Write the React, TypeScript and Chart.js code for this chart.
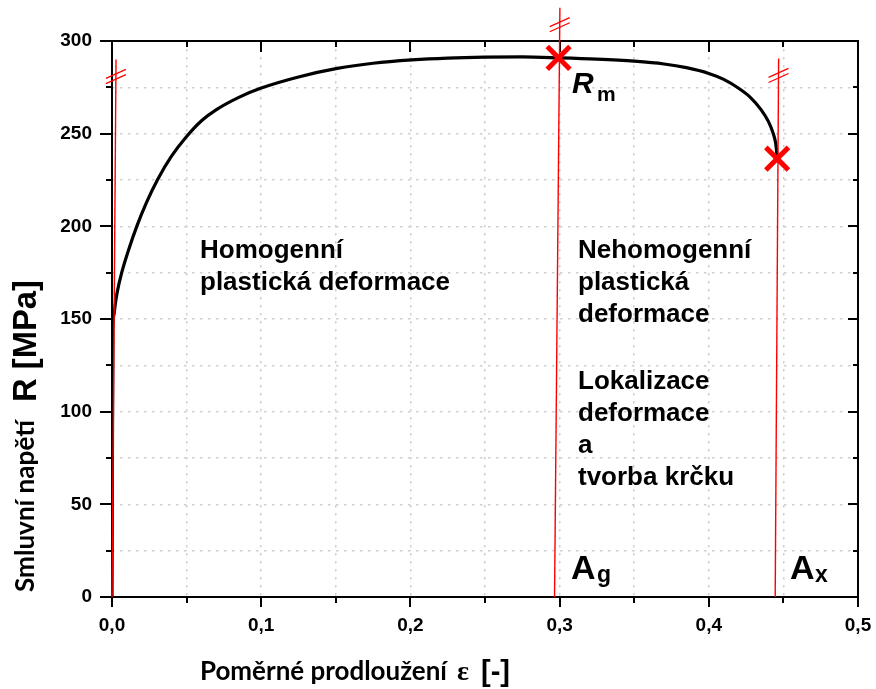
import React, { useEffect, useRef } from 'react';
import { Chart, registerables } from 'chart.js';

Chart.register(...registerables);

// ---- data ----
const strainValues = [
  0, 0.0006, 0.0012, 0.0022, 0.0035, 0.0065, 0.011, 0.0166, 0.023, 0.0305, 0.04, 0.05,
  0.06, 0.07, 0.085, 0.1, 0.125, 0.151, 0.175, 0.201, 0.225, 0.25, 0.275, 0.3,
  0.325, 0.35, 0.37, 0.385, 0.4, 0.41, 0.42, 0.428, 0.435, 0.44, 0.443, 0.4448, 0.4455, 0.4458,
];
const stressValues = [
  0, 145, 152, 158, 164.5, 175, 187, 200, 212.7, 225.2, 238, 248.5,
  257, 263, 269.6, 274.6, 280.6, 285.2, 288, 289.8, 290.8, 291.3, 291.4, 290.9,
  290.2, 289.1, 287.6, 285.6, 282.5, 279.3, 274.5, 269.5, 263, 256.5, 250.5, 245, 240, 236.5,
];

const markerStrain = [0.2993, 0.4458];
const markerStress = [290.9, 236.5];

const guideBottomStrain = [0, 0.2966, 0.4445];
const guideTopStrain = [0.0027, 0.3002, 0.4468];
const guideTopStress = [290, 318, 290.6];

const xTickValues = [0, 0.05, 0.1, 0.15, 0.2, 0.25, 0.3, 0.35, 0.4, 0.45, 0.5];
const yTickValues = [0, 25, 50, 75, 100, 125, 150, 175, 200, 225, 250, 275, 300];
const xLabelValues = [0, 0.1, 0.2, 0.3, 0.4, 0.5];
const yLabelValues = [0, 50, 100, 150, 200, 250, 300];

const homogenLines = ['Homogenní', 'plastická deformace'];
const nehomogenLines = ['Nehomogenní', 'plastická', 'deformace'];
const lokalizaceLines = ['Lokalizace', 'deformace', 'a', 'tvorba krčku'];
const yTitleSmall = 'Smluvní napětí';
const yTitleBig = 'R [MPa]';
const xTitleSmall = 'Poměrné prodloužení';
const xTitleSymbol = 'ε';
const xTitleUnit = '[-]';
const rmMain = 'R';
const rmSub = 'm';
const agMain = 'A';
const agSub = 'g';
const axMain = 'A';
const axSub = 'x';

const SANS = '"Liberation Sans", Arial, sans-serif';
const HUMAN = 'Lato, "Open Sans", sans-serif';
const RED = '#ff0000';

function isIn(list: number[], v: number) {
  return list.some((l) => Math.abs(l - v) < 1e-9);
}

function fitFont(ctx: CanvasRenderingContext2D, text: string, weight: string, family: string, width: number) {
  ctx.font = `${weight} 100px ${family}`;
  const w = ctx.measureText(text).width;
  const size = (100 * width) / w;
  return `${weight} ${size.toFixed(2)}px ${family}`;
}

const framePlugin = {
  id: 'frame',
  beforeDatasetsDraw(chart: any) {
    const { ctx, chartArea } = chart;
    const { left, right, top, bottom } = chartArea;
    const xs = chart.scales.x;
    const ys = chart.scales.y;
    ctx.save();
    ctx.strokeStyle = '#000';
    ctx.lineWidth = 2;
    ctx.beginPath();
    xTickValues.forEach((v) => {
      const px = Math.round(xs.getPixelForValue(v));
      const major = isIn(xLabelValues, v);
      ctx.moveTo(px, bottom);
      ctx.lineTo(px, bottom + (major ? 10 : 6));
      ctx.moveTo(px, top);
      ctx.lineTo(px, top + (major ? 11 : 6));
    });
    yTickValues.forEach((v) => {
      const py = Math.round(ys.getPixelForValue(v));
      const major = isIn(yLabelValues, v);
      ctx.moveTo(left - (major ? 12 : 6), py);
      ctx.lineTo(left, py);
      ctx.moveTo(right, py);
      ctx.lineTo(right - (major ? 10 : 5), py);
    });
    ctx.stroke();
    ctx.strokeRect(left, top, right - left, bottom - top);
    ctx.restore();
  },
  afterDatasetsDraw(chart: any) {
    const { ctx } = chart;
    const xs = chart.scales.x;
    const ys = chart.scales.y;
    ctx.save();
    // break marks on the guide lines
    ctx.strokeStyle = RED;
    ctx.lineWidth = 1.3;
    guideTopStrain.forEach((gx, i) => {
      const tx = xs.getPixelForValue(gx);
      const ty = ys.getPixelForValue(guideTopStress[i]);
      const bx = xs.getPixelForValue(guideBottomStrain[i]);
      const by = ys.getPixelForValue(0);
      const t = 17 / (by - ty);
      const cx = tx + (bx - tx) * t;
      const cy = ty + 17;
      ctx.beginPath();
      [-2.6, 2.6].forEach((o) => {
        ctx.moveTo(cx - 10, cy + 4.5 + o);
        ctx.lineTo(cx + 10, cy - 4.5 + o);
      });
      ctx.stroke();
    });

    ctx.fillStyle = '#000';
    ctx.textBaseline = 'alphabetic';
    ctx.textAlign = 'left';

    // region texts
    ctx.font = `bold 26px ${SANS}`;
    homogenLines.forEach((s, i) => ctx.fillText(s, 200, 258 + i * 32));
    nehomogenLines.forEach((s, i) => ctx.fillText(s, 578, 258 + i * 32));
    lokalizaceLines.forEach((s, i) => ctx.fillText(s, 578, 389 + i * 32));

    // R_m
    ctx.font = `italic bold 30px ${SANS}`;
    ctx.fillText(rmMain, 572, 93);
    ctx.font = `bold 21px ${SANS}`;
    ctx.fillText(rmSub, 597, 101);

    // A_g, A_x
    ctx.font = `bold 34px ${SANS}`;
    ctx.fillText(agMain, 571, 579);
    ctx.fillText(axMain, 790, 579);
    ctx.font = `bold 23px ${SANS}`;
    ctx.fillText(agSub, 597, 582);
    ctx.fillText(axSub, 815, 582);

    // y axis title
    ctx.save();
    ctx.translate(34, 592);
    ctx.rotate(-Math.PI / 2);
    ctx.font = fitFont(ctx, yTitleSmall, 'bold', HUMAN, 172);
    ctx.fillText(yTitleSmall, 0, 0);
    ctx.restore();
    ctx.save();
    ctx.translate(36, 402);
    ctx.rotate(-Math.PI / 2);
    ctx.font = fitFont(ctx, yTitleBig, 'bold', SANS, 122);
    ctx.fillText(yTitleBig, 0, 0);
    ctx.restore();

    // x axis title
    ctx.font = fitFont(ctx, xTitleSmall, 'bold', HUMAN, 247);
    ctx.fillText(xTitleSmall, 200, 680);
    ctx.font = `bold 28px "Liberation Serif", serif`;
    ctx.fillText(xTitleSymbol, 457, 680);
    ctx.font = `bold 29px ${SANS}`;
    ctx.fillText(xTitleUnit, 481, 681);

    ctx.restore();
  },
};

export default function App() {
  const ref = useRef<HTMLCanvasElement | null>(null);

  useEffect(() => {
    if (!ref.current) return;
    const curve = strainValues.map((x, i) => ({ x, y: stressValues[i] }));
    const guides = guideTopStrain.map((gx, i) => ({
      data: [
        { x: guideBottomStrain[i], y: 0 },
        { x: gx, y: guideTopStress[i] },
      ],
      showLine: true,
      borderColor: RED,
      borderWidth: 1.4,
      pointRadius: 0,
      clip: false,
      order: 2,
    }));
    const markers = markerStrain.map((x, i) => ({ x, y: markerStress[i] }));

    const chart = new Chart(ref.current, {
      type: 'scatter',
      data: {
        datasets: [
          {
            data: curve,
            showLine: true,
            borderColor: '#000',
            borderWidth: 3.2,
            pointRadius: 0,
            cubicInterpolationMode: 'monotone',
            order: 3,
          } as any,
          ...(guides as any[]),
          {
            data: markers,
            showLine: false,
            pointStyle: 'crossRot',
            pointRadius: 16,
            pointBorderWidth: 5,
            pointBorderColor: RED,
            pointBackgroundColor: RED,
            borderColor: RED,
            clip: false,
            order: 0,
          } as any,
        ],
      },
      options: {
        animation: false,
        responsive: false,
        events: [],
        layout: { autoPadding: false, padding: { top: 41, right: 18, left: 0, bottom: 0 } },
        plugins: { legend: { display: false }, tooltip: { enabled: false } },
        scales: {
          x: {
            type: 'linear',
            min: 0,
            max: 0.5,
            afterBuildTicks: (scale: any) => {
              scale.ticks = xTickValues.map((value) => ({ value }));
            },
            afterFit: (scale: any) => {
              scale.height = 92;
              scale.paddingLeft = 0;
              scale.paddingRight = 0;
            },
            grid: { color: '#cfcfcf', lineWidth: 1.5, drawTicks: false },
            border: { display: false, dash: [2.5, 5.5] },
            ticks: {
              autoSkip: false,
              maxRotation: 0,
              padding: 17,
              color: '#000',
              font: { family: SANS, size: 19, weight: 'bold' },
              callback: (v: any) => (isIn(xLabelValues, Number(v)) ? Number(v).toFixed(1).replace('.', ',') : ''),
            },
          },
          y: {
            type: 'linear',
            min: 0,
            max: 300,
            afterBuildTicks: (scale: any) => {
              scale.ticks = yTickValues.map((value) => ({ value }));
            },
            afterFit: (scale: any) => {
              scale.width = 112;
              scale.paddingTop = 0;
              scale.paddingBottom = 0;
            },
            grid: { color: '#cfcfcf', lineWidth: 1.5, drawTicks: false },
            border: { display: false, dash: [2.5, 5.5] },
            ticks: {
              autoSkip: false,
              padding: 20,
              color: '#000',
              font: { family: SANS, size: 19, weight: 'bold' },
              callback: (v: any) => (isIn(yLabelValues, Number(v)) ? String(v) : ''),
            },
          },
        },
      },
      plugins: [framePlugin],
    } as any);

    return () => chart.destroy();
  }, []);

  return (
    <div style={{ position: 'fixed', left: 0, top: 0, width: 876, height: 689, background: '#fff' }}>
      <canvas ref={ref} width={876} height={689} style={{ display: 'block' }} />
    </div>
  );
}
